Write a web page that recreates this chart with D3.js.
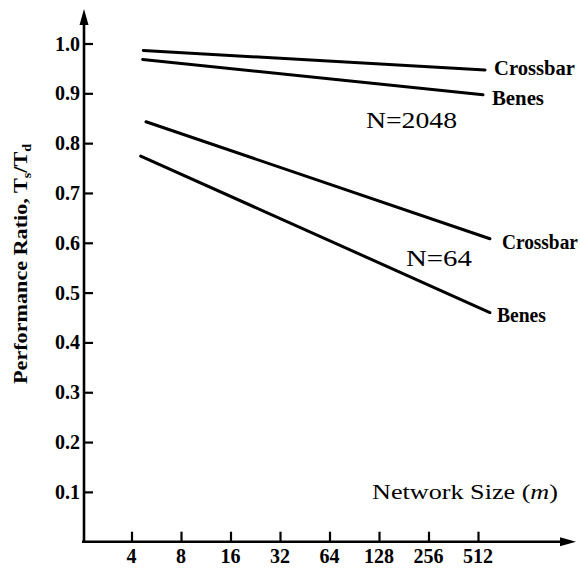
<!DOCTYPE html>
<html>
<head>
<meta charset="utf-8">
<script src="https://cdn.jsdelivr.net/npm/d3@7"></script>
<style>
  html, body { margin: 0; padding: 0; background: #fff; }
  svg { display: block; }
  text { font-family: "Liberation Serif", "DejaVu Serif", serif; fill: #000; }
</style>
</head>
<body>
<svg id="chart" width="580" height="571"></svg>
<script>
// ---- data ----
const xTickValues = [4, 8, 16, 32, 64, 128, 256, 512];
const yTickValues = [0.1, 0.2, 0.3, 0.4, 0.5, 0.6, 0.7, 0.8, 0.9, 1.0];
const yTickLabels = ["0.1", "0.2", "0.3", "0.4", "0.5", "0.6", "0.7", "0.8", "0.9", "1.0"];
const seriesNames = ["Crossbar", "Benes", "Crossbar", "Benes"];
const seriesGroups = ["N=2048", "N=2048", "N=64", "N=64"];
// [network size m, performance ratio]
const crossbar2048 = [[4.72, 0.986], [565, 0.947]];
const benes2048 = [[4.68, 0.968], [549, 0.897]];
const crossbar64 = [[4.90, 0.843], [605, 0.608]];
const benes64 = [[4.55, 0.774], [605, 0.460]];
const groupLabels = ["N=2048", "N=64"];

// ---- layout ----
const svg = d3.select("#chart");
const x = d3.scaleLog().base(2).domain([2, 2048]).range([82, 577]);
const y = d3.scaleLinear().domain([0, 1]).range([541.7, 43.5]);
const axisX0 = 84;      // y axis position
const axisY0 = y(0);

const series = [crossbar2048, benes2048, crossbar64, benes64];
const labelOffsets = [[9, 5], [9, 10], [12, 10], [7, 9]];
const labelLengths = [81, 52, 76, 49];

// y axis
const yAxis = d3.axisRight(y).tickValues(yTickValues).tickSize(9).tickFormat("");
const gy = svg.append("g").attr("transform", `translate(${axisX0},0)`).call(yAxis);
gy.select(".domain").remove();
gy.selectAll(".tick line").attr("stroke", "#000").attr("stroke-width", 2.2);

svg.append("line")
  .attr("x1", axisX0).attr("x2", axisX0)
  .attr("y1", axisY0 + 1).attr("y2", 22)
  .attr("stroke", "#000").attr("stroke-width", 2.6);
svg.append("path")
  .attr("d", `M${axisX0},9 L${axisX0 - 4.5},25 L${axisX0 + 4.5},25 Z`)
  .attr("fill", "#000");

svg.append("g").selectAll("text")
  .data(yTickValues)
  .join("text")
  .attr("x", 80)
  .attr("y", d => y(d) + 7)
  .attr("text-anchor", "end")
  .attr("font-size", 20)
  .attr("font-weight", "bold")
  .text((d, i) => yTickLabels[i]);

// x axis
const xAxis = d3.axisTop(x).tickValues(xTickValues).tickSize(10).tickFormat("");
const gx = svg.append("g").attr("transform", `translate(0,${axisY0})`).call(xAxis);
gx.select(".domain").remove();
gx.selectAll(".tick line").attr("stroke", "#000").attr("stroke-width", 2.2);

svg.append("line")
  .attr("x1", 82).attr("x2", 562)
  .attr("y1", axisY0).attr("y2", axisY0)
  .attr("stroke", "#000").attr("stroke-width", 2.6);
svg.append("path")
  .attr("d", `M576,${axisY0} L560,${axisY0 - 4.5} L560,${axisY0 + 4.5} Z`)
  .attr("fill", "#000");

svg.append("g").selectAll("text")
  .data(xTickValues)
  .join("text")
  .attr("x", d => x(d))
  .attr("y", 563)
  .attr("text-anchor", "middle")
  .attr("font-size", 20)
  .attr("font-weight", "bold")
  .text(d => d);

// lines
const line = d3.line().x(d => x(d[0])).y(d => y(d[1]));
svg.append("g").selectAll("path")
  .data(series)
  .join("path")
  .attr("d", line)
  .attr("fill", "none")
  .attr("stroke", "#000")
  .attr("stroke-width", 3)
  .attr("stroke-linecap", "round");

// series labels
svg.append("g").selectAll("text")
  .data(series)
  .join("text")
  .attr("x", (d, i) => x(d[d.length - 1][0]) + labelOffsets[i][0])
  .attr("y", (d, i) => y(d[d.length - 1][1]) + labelOffsets[i][1])
  .attr("font-size", 20)
  .attr("font-weight", "bold")
  .attr("textLength", (d, i) => labelLengths[i])
  .attr("lengthAdjust", "spacingAndGlyphs")
  .text((d, i) => seriesNames[i]);

// group labels
const groupPos = [[366, 128, 91], [406, 266, 66]];
svg.append("g").selectAll("text")
  .data(groupLabels)
  .join("text")
  .attr("x", (d, i) => groupPos[i][0])
  .attr("y", (d, i) => groupPos[i][1])
  .attr("font-size", 23)
  .attr("textLength", (d, i) => groupPos[i][2])
  .attr("lengthAdjust", "spacingAndGlyphs")
  .text(d => d);

// x axis title
const xt = svg.append("text")
  .attr("x", 372).attr("y", 499)
  .attr("font-size", 22)
  .attr("textLength", 186)
  .attr("lengthAdjust", "spacingAndGlyphs");
xt.append("tspan").text("Network Size (");
xt.append("tspan").attr("font-style", "italic").text("m");
xt.append("tspan").text(")");

// y axis title
const yt = svg.append("text")
  .attr("transform", "translate(27,264) rotate(-90)")
  .attr("text-anchor", "middle")
  .attr("font-size", 19)
  .attr("font-weight", "bold")
  .attr("textLength", 240)
  .attr("lengthAdjust", "spacingAndGlyphs");
yt.append("tspan").text("Performance Ratio, T");
yt.append("tspan").attr("font-size", 12).attr("dy", 4).text("s");
yt.append("tspan").attr("dy", -4).text("/T");
yt.append("tspan").attr("font-size", 12).attr("dy", 4).text("d");
</script>
</body>
</html>
